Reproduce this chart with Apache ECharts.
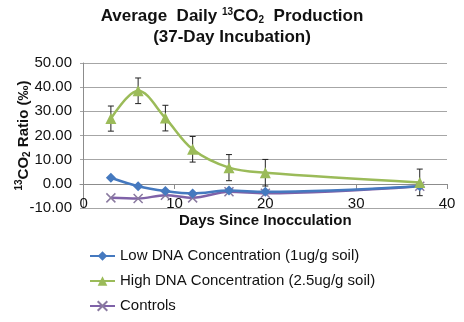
<!DOCTYPE html>
<html>
<head>
<meta charset="utf-8">
<script src="https://cdn.jsdelivr.net/npm/echarts@6/dist/echarts.min.js"></script>
<style>
  html, body { margin: 0; padding: 0; background: #fff; }
  #chart { width: 464px; height: 322px; }
</style>
</head>
<body>
<div id="chart"></div>
<script>
// values
var days = [3, 6, 9, 12, 16, 20, 37]
var lowDna = [2.5, -1.0, -3.0, -4.0, -2.8, -3.3, -1.0]
var highDna = [27.0, 38.5, 27.2, 14.3, 6.7, 4.6, 0.6]
var highErr = [5.2, 5.3, 5.3, 5.3, 5.4, 5.5, 5.5]
var controls = [-5.8, -6.1, -4.7, -5.8, -3.3, -3.9, -1.0]
var xLabels = [0, 10, 20, 30, 40]
var xTicks = [10, 20, 30, 40]

var font = 'Liberation Sans, Arial, sans-serif'
var blue = '#4579bf'
var green = '#9bbb59'
var purple = '#7f62a8'

function pairs(ys) {
  return days.map(function (d, i) { return [d, ys[i]] })
}

// rich styles for the 13 / 2 in 13CO2
function scriptRich(size, lh) {
  var base = {fontFamily: font, fontSize: size, fontWeight: 'bold', color: '#111', lineHeight: lh}
  return {
    b: base,
    sup: {fontFamily: font, fontSize: 10, fontWeight: 'bold', color: '#111', verticalAlign: 'middle', lineHeight: lh, padding: [0, 0, 9, 0]},
    sub: {fontFamily: font, fontSize: 10, fontWeight: 'bold', color: '#111', verticalAlign: 'middle', lineHeight: lh, padding: [7, 0, 0, 0]}
  }
}

var chart = echarts.init(document.getElementById('chart'))

var options = {
  animation: false,
  textStyle: {fontFamily: font},
  title: {
    left: 'center',
    top: 6,
    padding: 0,
    text: '{b|Average  Daily }{sup|13}{b|CO}{sub|2}{b|  Production}\n{b|(37-Day Incubation)}',
    textStyle: {
      fontFamily: font,
      fontSize: 17,
      fontWeight: 'bold',
      color: '#111',
      lineHeight: 21,
      rich: scriptRich(17, 21)
    }
  },
  graphic: [{
    type: 'text',
    left: 179,
    top: 213,
    style: {
      text: 'Days Since Inocculation',
      fontFamily: font,
      fontSize: 15,
      fontWeight: 'bold',
      fill: '#111'
    }
  }],
  legend: {
    orient: 'vertical',
    left: 89,
    top: 248,
    height: 90,
    padding: 0,
    itemWidth: 25,
    itemHeight: 12,
    itemGap: 9,
    textStyle: {fontFamily: font, fontSize: 15, color: '#111', lineHeight: 16},
    data: ['Low DNA Concentration (1ug/g soil)', 'High DNA Concentration (2.5ug/g soil)', 'Controls']
  },
  grid: {left: 80, right: 17, top: 63, bottom: 114, outerBoundsMode: 'none', containLabel: false},
  xAxis: {
    type: 'value',
    min: -0.4,
    max: 40,
    // axis sits on y = 0, i.e. 10 units (of 60) above the plot bottom
    offset: -24,
    axisLine: {onZero: false, lineStyle: {color: '#8c8c8c', width: 1}},
    axisTick: {show: true, customValues: xTicks, length: 5, lineStyle: {color: '#8c8c8c'}},
    axisLabel: {customValues: xLabels, fontFamily: font, fontSize: 15, color: '#111', margin: 12},
    splitLine: {show: false}
  },
  yAxis: {
    type: 'value',
    min: -10,
    max: 50,
    interval: 10,
    name: '{sup|13}{b|CO}{sub|2}{b| Ratio (‰)}',
    nameLocation: 'middle',
    nameRotate: 90,
    nameGap: 46,
    nameMoveOverlap: false,
    nameTextStyle: {
      fontFamily: font,
      fontSize: 15,
      fontWeight: 'bold',
      color: '#111',
      rich: scriptRich(15, 20)
    },
    axisLine: {show: true, lineStyle: {color: '#8c8c8c', width: 1}},
    axisTick: {show: false},
    axisLabel: {
      fontFamily: font,
      fontSize: 15,
      color: '#111',
      margin: 8,
      formatter: function (v) { return v.toFixed(2) }
    },
    splitLine: {lineStyle: {color: '#a6a6a6', width: 1}}
  },
  series: [
    {
      name: 'High error',
      type: 'custom',
      z: 1,
      silent: true,
      data: days.map(function (d, i) { return [d, highDna[i] - highErr[i], highDna[i] + highErr[i]] }),
      renderItem: function (params, api) {
        var lo = api.coord([api.value(0), api.value(1)])
        var hi = api.coord([api.value(0), api.value(2)])
        var w = 3
        var style = {stroke: '#222', lineWidth: 1}
        return {
          type: 'group',
          children: [
            {type: 'line', shape: {x1: hi[0], y1: hi[1], x2: lo[0], y2: lo[1]}, style: style},
            {type: 'line', shape: {x1: hi[0] - w, y1: hi[1], x2: hi[0] + w, y2: hi[1]}, style: style},
            {type: 'line', shape: {x1: lo[0] - w, y1: lo[1], x2: lo[0] + w, y2: lo[1]}, style: style}
          ]
        }
      }
    },
    {
      name: 'Controls',
      type: 'line',
      z: 2,
      smooth: 0.35,
      data: pairs(controls),
      symbol: 'path://M0,0L10,10M10,0L0,10',
      symbolSize: 9,
      lineStyle: {color: purple, width: 2.5},
      itemStyle: {color: '#a48fc4', borderColor: '#8a7aa0', borderWidth: 1.5}
    },
    {
      name: 'Low DNA Concentration (1ug/g soil)',
      type: 'line',
      z: 3,
      smooth: 0.35,
      data: pairs(lowDna),
      symbol: 'diamond',
      symbolSize: 10,
      lineStyle: {color: blue, width: 2.5},
      itemStyle: {color: blue}
    },
    {
      name: 'High DNA Concentration (2.5ug/g soil)',
      type: 'line',
      z: 4,
      smooth: 0.35,
      data: pairs(highDna),
      symbol: 'triangle',
      symbolSize: 11,
      lineStyle: {color: green, width: 2.5},
      itemStyle: {color: green}
    }
  ]
}

chart.setOption(options)
</script>
</body>
</html>
